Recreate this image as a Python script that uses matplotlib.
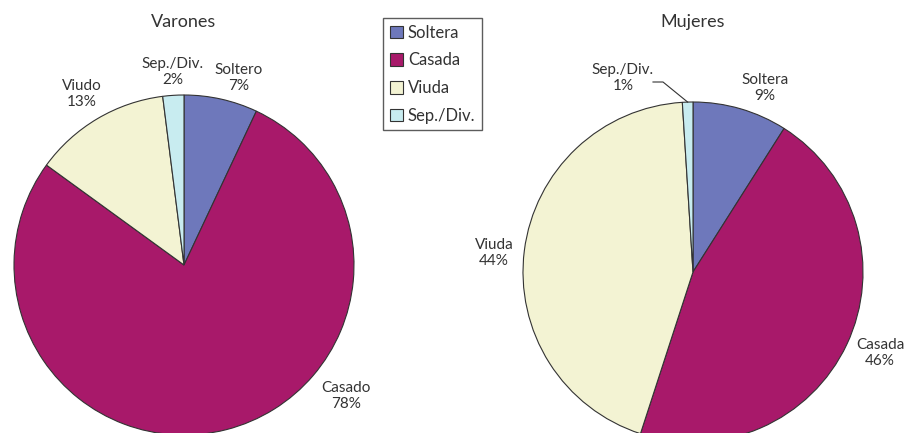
import numpy as np
import matplotlib.pyplot as plt
from matplotlib.patches import Patch

plt.rcParams['font.family'] = ['Lato', 'DejaVu Sans']

categories = ['Soltera', 'Casada', 'Viuda', 'Sep./Div.']
varones_labels = ['Soltero', 'Casado', 'Viudo', 'Sep./Div.']
mujeres_labels = ['Soltera', 'Casada', 'Viuda', 'Sep./Div.']
varones = [7, 78, 13, 2]
mujeres = [9, 46, 44, 1]
colors = ['#6e78bb', '#a8196a', '#f3f3d3', '#c8ecf0']

# label offsets (pixels, relative to pie center)
varones_pos = [(55, 187), (162, -131), (-102, 171), (-11, 193)]
mujeres_pos = [(72, 184), (187, -81), (-199, 19), (-70, 194)]

fig = plt.figure(figsize=(9.07, 4.33), dpi=100)
ax = fig.add_axes([0, 0, 1, 1])

txt = '#333333'
R = 170
for vals, labs, pos, cx, cy, title in [
        (varones, varones_labels, varones_pos, 184, 168, 'Varones'),
        (mujeres, mujeres_labels, mujeres_pos, 693, 161, 'Mujeres')]:
    ax.pie(vals, colors=colors, startangle=90, counterclock=False,
           center=(cx, cy), radius=R, frame=True,
           wedgeprops=dict(edgecolor='#333333', linewidth=0.8))
    for v, l, (dx, dy) in zip(vals, labs, pos):
        ax.text(cx + dx, cy + dy, f'{l}\n{v}%', ha='center', va='center',
                fontsize=11, color=txt, linespacing=1.1)
    ax.text(cx, 411, title, ha='center', va='center', fontsize=13, color=txt)

# leader line for Mujeres Sep./Div.
ang = np.deg2rad(90 + 360 * (mujeres[3] / 2) / 100)
ex, ey = 693 + R * np.cos(ang), 161 + R * np.sin(ang)
ax.plot([653, 663, ex], [351, 351, ey], color='#333333', lw=0.8)

ax.set_xlim(0, 907)
ax.set_ylim(0, 433)
ax.set_aspect('equal')
ax.axis('off')

handles = [Patch(facecolor=c, edgecolor='#333333', linewidth=0.8) for c in colors]
leg = fig.legend(handles, categories, loc='upper left',
                 bbox_to_anchor=(383 / 907, 1 - 18 / 433), fontsize=12,
                 frameon=True, fancybox=False, edgecolor='#333333',
                 handlelength=0.8, handleheight=0.8, handletextpad=0.3,
                 labelspacing=0.7, borderpad=0.4, borderaxespad=0)
for t in leg.get_texts():
    t.set_color(txt)
leg.get_frame().set_linewidth(1.0)

fig.savefig('out.png', dpi=100)
